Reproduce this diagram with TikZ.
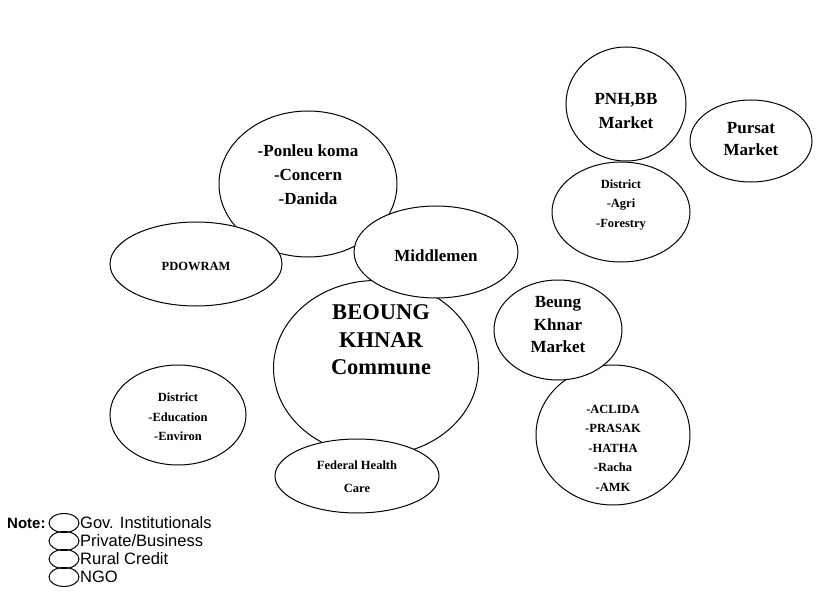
\documentclass[tikz,border=0pt]{standalone}
\usepackage{fontspec}
\setmainfont{Liberation Serif}
\newfontfamily\arialfont{Liberation Sans}
\usetikzlibrary{shapes.geometric}
\begin{document}
\begin{tikzpicture}[x=1pt,y=-1pt,
  blob/.style={ellipse, draw=black, fill=white, line width=1pt, inner sep=0pt},
  bigtxt/.style={align=center, inner sep=0pt, font=\fontsize{17}{24}\selectfont\bfseries},
  hugetxt/.style={align=center, inner sep=0pt, font=\fontsize{22.5}{27.5}\selectfont\bfseries},
  smalltxt/.style={align=center, inner sep=0pt, font=\fontsize{12.5}{19.5}\selectfont\bfseries},
  keyblob/.style={ellipse, draw=black, line width=1pt, minimum width=30pt, minimum height=19pt, inner sep=0pt},
  keytxt/.style={anchor=west, inner sep=0pt, font=\arialfont\fontsize{16.5}{18}\selectfont}]
\useasboundingbox (0,0) rectangle (820,594);
% shapes, in stacking order
\node[blob, minimum width=178pt, minimum height=146pt] (ponleuE) at (308,184) {};
\node[blob, minimum width=172pt, minimum height=84pt] (pdowE) at (196,264) {};
\node[blob, minimum width=205pt, minimum height=175pt] (commE) at (376,368) {};
\node[blob, minimum width=164pt, minimum height=92pt] (midE) at (436,252) {};
\node[blob, minimum width=164pt, minimum height=74pt] (fedE) at (357,476) {};
\node[blob, minimum width=154pt, minimum height=140pt] (acliE) at (613,435) {};
\node[blob, minimum width=128pt, minimum height=100pt] (beungE) at (558,330) {};
\node[blob, minimum width=136pt, minimum height=100pt] (eduE) at (178,415) {};
\node[blob, minimum width=120pt, minimum height=114pt] (pnhE) at (626,104) {};
\node[blob, minimum width=122pt, minimum height=82pt] (pursE) at (751,141) {};
\node[blob, minimum width=138pt, minimum height=100pt] (agriE) at (621,212) {};
% labels
\node[bigtxt] (ponleuT) at (308,175) {-Ponleu koma\\-Concern\\-Danida};
\node[smalltxt] (pdowT) at (196,266) {PDOWRAM};
\node[hugetxt] (commT) at (381,340) {BEOUNG\\KHNAR\\Commune};
\node[bigtxt] (midT) at (436,256) {Middlemen};
\node[smalltxt, font=\fontsize{12.5}{23}\selectfont\bfseries] (fedT) at (357,477) {Federal Health\\Care};
\node[smalltxt] (acliT) at (613,448) {-ACLIDA\\-PRASAK\\-HATHA\\-Racha\\-AMK};
\node[bigtxt, font=\fontsize{17}{22.5}\selectfont\bfseries] (beungT) at (558,325) {Beung\\Khnar\\Market};
\node[smalltxt] (eduT) at (178,417) {District\\-Education\\-Environ};
\node[bigtxt] (pnhT) at (626,111) {PNH,BB\\Market};
\node[bigtxt, font=\fontsize{17}{22}\selectfont\bfseries] (pursT) at (751,139) {Pursat\\Market};
\node[smalltxt] (agriT) at (621,205) {District\\-Agri\\-Forestry};
% legend
\node[anchor=west, inner sep=0pt, font=\arialfont\fontsize{15}{18}\selectfont\bfseries] (noteT) at (7,523) {Note:};
\node[keyblob] (k1) at (64,523) {};
\node[keyblob] (k2) at (64,541) {};
\node[keyblob] (k3) at (64,559) {};
\node[keyblob] (k4) at (64,577) {};
\node[keytxt] (k1T) at (80,523) {Gov. Institutionals};
\node[keytxt] (k2T) at (80,541) {Private/Business};
\node[keytxt] (k3T) at (80,559) {Rural Credit};
\node[keytxt] (k4T) at (80,577) {NGO};
\end{tikzpicture}
\end{document}
